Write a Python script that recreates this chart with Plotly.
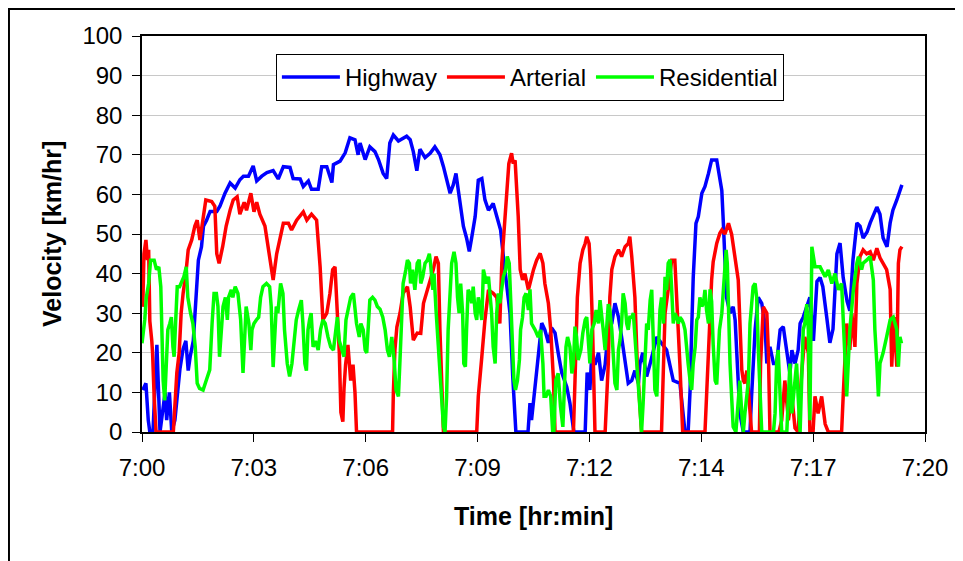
import plotly.graph_objects as go

# time in minutes after 7:00, velocity in km/hr
hw_t = [0.02,0.10,0.16,0.20,0.28,0.38,0.46,0.59,0.63,0.70,0.76,0.84,0.92,0.97,1.05,1.12,1.18,1.23,1.31,1.35,
        1.40,1.44,1.52,1.57,1.65,1.74,1.91,1.99,2.12,2.25,2.38,2.50,2.59,2.72,2.84,2.93,3.06,3.19,3.35,3.48,
        3.61,3.78,3.86,4.04,4.12,4.25,4.33,4.50,4.59,4.72,4.85,4.89,5.06,5.19,5.31,5.44,5.52,5.57,5.70,5.82,
        5.95,6.04,6.16,6.25,6.33,6.42,6.55,6.76,6.85,6.93,7.02,7.10,7.23,7.36,7.48,7.61,7.70,7.78,7.87,7.95,
        8.02,8.08,8.12,8.21,8.29,8.36,8.42,8.51,8.59,8.68,8.76,8.85,8.97,9.06,9.16,9.23,9.32,9.40,9.47,9.53,
        9.55,9.86,9.91,9.95,10.04,10.12,10.21,10.29,10.38,10.46,10.55,10.63,10.72,10.85,10.93,11.02,11.03,11.32,11.37,11.44,
        11.49,11.57,11.66,11.74,11.83,11.91,12.00,12.08,12.17,12.25,12.34,12.42,12.51,12.59,12.68,12.72,12.79,12.89,12.98,13.15,
        13.40,13.57,13.74,13.83,13.87,13.95,14.00,14.04,14.08,14.15,14.21,14.30,14.38,14.47,14.55,14.68,14.74,14.81,14.85,14.89,
        14.93,15.02,15.10,15.15,15.19,15.23,15.27,15.36,15.53,15.57,15.66,15.74,15.83,15.91,15.96,16.04,16.13,16.21,16.30,16.38,
        16.47,16.55,16.60,16.68,16.76,16.81,16.89,16.98,17.06,17.15,17.24,17.32,17.39,17.49,17.57,17.65,17.75,17.83,17.91,18.01,
        18.08,18.16,18.26,18.34,18.42,18.52,18.60,18.77,18.85,18.93,19.03,19.11,19.18,19.28,19.41]
hw_v = [10.6,12.3,3,0,0,22,0,10,3,10,0,3,11,16,21,23,15.5,19,23,30,
        36.7,43.4,46.8,52,53.5,55.7,55.7,57,60.3,62.9,61.6,63.7,64.6,64.6,67.2,63.4,64.6,65.5,66,63.9,
        67,66.8,64,63.9,62,63.4,61.3,61.3,67,67,63,67.5,68.4,70.5,74.3,73.8,70,73,68.8,72,
        70.8,68.8,65.3,64,73,75,73.5,74.7,73.8,70.8,66,71.4,69.3,70.4,72,70,67,63.6,60.3,62.4,
        65.3,61,57.7,51.9,49,45.6,49,54.4,63.6,64,58.6,56,57.7,54.4,51,44.3,35.9,30,14,1.3,
        0,0,7.3,3,11.4,20,27.5,25.8,22.5,26.3,25,20,15,11.4,7.3,0.8,0,0,15,10.6,
        20,17,20,13,17,25.8,27.4,32.5,29,24,18,12.3,13,15.5,12.3,17.3,20,14,17.3,24,
        20.7,13,12.3,4.7,0,0,10.6,25.8,39,52.7,54.4,60.3,62,65.3,68.7,68.7,64.5,61,52.7,42.6,
        34,30,31.6,28.3,21.5,13,4.7,0,0,9,25.8,34,32.5,27.4,17.3,21.5,17.3,17.3,25.8,26.6,
        19.9,14.8,20.7,17.3,20.7,27.4,29,31.6,34,23,38,39,36.7,29,22.5,26,45,47.7,39,33,
        30.6,43.4,52.8,52,49,50.5,52.8,56.8,55,49,46.8,52.8,56,58.6,62.4]

ar_t = [0.02,0.05,0.10,0.14,0.17,0.20,0.25,0.27,0.31,0.36,0.80,0.84,0.89,0.95,1.00,1.05,1.12,1.18,1.27,1.35,
        1.41,1.48,1.57,1.63,1.78,1.86,1.91,1.97,2.06,2.15,2.25,2.33,2.43,2.50,2.61,2.67,2.78,2.86,2.93,3.01,
        3.14,3.23,3.29,3.35,3.44,3.52,3.61,3.74,3.82,3.95,4.12,4.21,4.33,4.46,4.55,4.62,4.72,4.80,4.87,4.93,
        4.99,5.04,5.08,5.13,5.16,5.20,5.26,5.33,5.39,5.44,5.48,6.40,6.42,6.46,6.51,6.59,6.67,6.78,6.85,6.93,
        7.03,7.12,7.19,7.27,7.36,7.44,7.51,7.57,7.61,7.66,7.70,8.55,8.59,8.68,8.76,8.85,8.97,9.06,9.14,9.19,
        9.25,9.32,9.37,9.44,9.48,9.53,9.57,9.61,9.66,9.72,9.78,9.87,10.00,10.08,10.17,10.24,10.29,10.38,10.44,10.51,
        10.55,11.02,11.06,11.12,11.19,11.26,11.32,11.36,11.42,11.46,11.51,11.57,11.83,11.87,11.91,11.95,12.00,12.08,12.17,12.25,
        12.34,12.42,12.46,12.51,12.59,12.65,12.70,12.76,13.27,13.32,13.36,13.44,13.53,13.61,13.66,13.74,13.81,14.38,14.42,14.49,
        14.55,14.59,14.68,14.76,14.81,14.89,14.98,15.06,15.15,15.23,15.27,15.32,15.36,15.40,15.45,15.51,15.57,15.77,15.80,15.87,
        15.96,16.00,16.04,16.27,16.34,16.42,16.51,16.60,16.68,16.76,16.85,16.93,17.02,17.06,17.14,17.19,17.27,17.36,17.45,17.53,
        17.87,17.91,18.00,18.08,18.13,18.21,18.26,18.34,18.42,18.51,18.60,18.68,18.77,18.85,18.93,19.02,19.11,19.15,19.21,19.28,
        19.32,19.36,19.41]
ar_v = [31.6,45,48.5,43.4,46,28,23,20,9,0,0,7,15,20,30,35,40,46,48.5,52,
        53.5,48.5,55,58.6,58.2,57,45,42.6,46.8,52,56,58.6,59.4,55,58,56,60.3,55.6,58,55,
        52,46,41.7,38.4,45,48.5,52.7,52.7,51,53.5,55.6,53.5,55,53.5,41.7,28.3,30,35,41,41.7,
        30.8,20,5,2.6,11,17,22,13,17,10,0,0,9.8,20.7,26.5,30,35,36.7,31.6,23.2,
        25,24.9,32.5,35,38.4,41,44.3,42.6,25.8,9,0,0,9,19,28.3,35.9,35,34,27.4,42.6,
        51,61,67.8,70.4,67.8,68.6,62,54.4,41,38.4,40,35.9,41,43.4,45.1,42.6,37.5,32.5,25.8,13.1,
        0,0,13,34,42.6,46,47.6,49.3,47.6,41,25.8,0,0,9,17.3,34,41,44.3,46,44.3,
        46.8,47.6,49.3,44.3,34,17.3,9,0,0,17,30,35.9,43.4,43.4,34,17,0,0,9,25.8,
        38.4,43,47.6,50.2,51,50,52.7,50,43.4,38.4,28.3,15.7,13,12.3,15.5,7.9,0,0,17.3,31.6,
        30,20,0,0,3,13,3,9,1,0,15,24,20,0,0,9,4.7,9,2,0,
        0,9,27.4,20.7,30,21.5,37.5,44.3,46,45,45.5,43.4,46.4,44,42.6,41,36,16.5,29,16.5,
        42.6,46,46.8]

rs_t = [0.00,0.07,0.11,0.17,0.22,0.31,0.37,0.43,0.48,0.51,0.54,0.58,0.62,0.66,0.71,0.75,0.79,0.82,0.85,0.90,
        0.96,1.00,1.07,1.13,1.17,1.24,1.30,1.36,1.41,1.47,1.56,1.64,1.73,1.79,1.84,1.90,1.94,1.98,2.03,2.07,
        2.13,2.18,2.21,2.28,2.32,2.38,2.45,2.52,2.58,2.62,2.66,2.73,2.78,2.81,2.86,2.92,2.98,3.03,3.09,3.18,
        3.26,3.30,3.35,3.39,3.43,3.47,3.54,3.60,3.64,3.71,3.77,3.83,3.88,3.94,4.00,4.07,4.11,4.16,4.20,4.24,
        4.28,4.32,4.37,4.43,4.50,4.56,4.62,4.68,4.75,4.82,4.89,4.96,4.99,5.04,5.10,5.16,5.21,5.27,5.33,5.40,
        5.44,5.48,5.55,5.59,5.65,5.70,5.74,5.78,5.82,5.89,5.95,6.01,6.08,6.15,6.21,6.27,6.32,6.38,6.44,6.49,
        6.55,6.59,6.63,6.67,6.74,6.78,6.83,6.86,6.91,6.97,7.03,7.08,7.12,7.17,7.23,7.29,7.34,7.37,7.43,7.46,
        7.51,7.54,7.59,7.66,7.70,7.74,7.78,7.82,7.87,7.91,7.97,8.02,8.06,8.10,8.14,8.19,8.22,8.26,8.29,8.33,
        8.38,8.42,8.46,8.51,8.55,8.59,8.63,8.68,8.72,8.76,8.80,8.85,8.89,8.93,8.97,9.02,9.06,9.10,9.14,9.19,
        9.23,9.29,9.33,9.38,9.42,9.47,9.50,9.54,9.59,9.64,9.67,9.72,9.76,9.81,9.87,9.91,9.95,10.04,10.12,10.18,
        10.24,10.27,10.32,10.38,10.44,10.49,10.52,10.57,10.63,10.69,10.75,10.78,10.83,10.87,10.93,10.98,11.02,11.06,11.10,11.14,
        11.21,11.26,11.32,11.36,11.40,11.44,11.49,11.55,11.60,11.66,11.70,11.74,11.78,11.83,11.87,11.91,11.95,12.00,12.04,12.08,
        12.13,12.17,12.21,12.25,12.29,12.34,12.38,12.42,12.46,12.51,12.55,12.59,12.64,12.68,12.72,12.76,12.80,12.85,12.89,12.93,
        12.98,13.02,13.06,13.10,13.15,13.19,13.23,13.27,13.32,13.36,13.40,13.44,13.49,13.53,13.57,13.61,13.66,13.70,13.74,13.79,
        13.83,13.87,13.91,13.95,14.00,14.04,14.08,14.13,14.17,14.21,14.25,14.30,14.34,14.38,14.42,14.47,14.51,14.55,14.59,14.64,
        14.68,14.75,14.81,14.85,14.89,14.92,14.95,14.98,15.02,15.06,15.10,15.17,15.23,15.27,15.32,15.36,15.40,15.45,15.49,15.53,
        15.57,15.61,15.66,15.70,15.74,15.79,15.83,16.13,16.17,16.21,16.25,16.30,16.34,16.47,16.51,16.55,16.60,16.64,16.68,16.72,
        16.76,16.81,16.85,16.89,16.93,16.98,17.02,17.06,17.11,17.19,17.32,17.45,17.53,17.62,17.70,17.79,17.87,17.91,17.96,18.00,
        18.08,18.17,18.26,18.30,18.38,18.42,18.51,18.60,18.68,18.72,18.77,18.81,18.85,18.93,19.02,19.11,19.19,19.28,19.32,19.36,
        19.40]
rs_v = [22.4,28.3,34,37.5,43.4,43.4,41,41.7,36.7,25.8,13,8,17.3,25.8,27.4,29,21.5,19,25.8,36.7,
        36.7,37.5,39.2,41.7,34,30,27.4,21.5,12.3,11,10.6,13,15.7,27.4,35,35,31.7,19,25.8,31.7,
        34,28.3,34,35.9,34,36.7,35,28.3,14.9,25.8,31.7,27.4,20.7,25.8,27.4,28.3,29,34,36.7,37.5,
        36.7,31.7,16.4,24,31.7,30,37.5,35,25.8,17.3,14,17.3,23.2,28.3,30.8,33.3,27.4,17.3,15.5,25.8,
        28.3,30,21.5,23,20.7,25.8,28.3,27.4,24,21.5,20.7,25.8,29,23,20.7,19,28.3,31.7,34,35,
        31.7,27.4,24,27.4,25.8,20.7,20,27.4,33.3,34,33.3,31.7,31,29,25.8,20.7,19,24,18.2,10.6,
        9,18.2,30,37.5,41,43.4,42.6,37.5,41,35.9,42.6,43.5,37.5,39.2,42.6,43.4,45,42.6,35.9,40,
        30.8,25.8,17.3,9,1.3,0,9,25.8,35.9,42.6,45.5,42.6,34,30,37.5,30,17.3,16.5,25.8,35.9,
        35,32.5,36.7,30,28.3,34,31.7,28.3,41,39.2,37.5,39.2,35,30,21.5,17.3,30,35,32.5,36.7,
        39.2,41,44.3,42.6,34,24,13.1,10.6,13,18.2,25.8,29,34,35,30.8,36,27.4,25.8,24,25.8,
        17.3,9,9,10.6,9,0,0,13.1,14.8,6.4,1.3,9,21.5,24,21.5,14.8,17.3,26.6,24,18.2,
        20.7,25,28.3,29,21.5,17.3,25.8,27.4,30.8,27.4,33.3,30,25.8,20.7,27.4,32.3,30.8,25.8,19,12.3,
        10.6,20.7,23.2,27.4,35,32.5,27.4,25.8,29,29,30,24,17.3,13,4.7,0,7.2,21.5,27.4,25.8,
        33.3,35.9,25.8,10.6,9,20.7,30.8,34,27.4,39.2,35.9,42.6,43.5,35.9,27.4,30,29,27.4,29,28.3,
        27.4,25.8,20.7,17.3,13,10.6,17.3,21.5,28.3,29,34,31.7,32.5,35.9,30.8,27.4,36,33,22,13,
        12,25.8,30,35.9,42.6,46,42.6,27.4,17.3,9,1.3,0,9,13,4.7,0,4.7,9,13,27.4,
        32.3,36.7,37.5,34,21.5,10.6,0,0,4.7,17.3,20.7,9,0,0,9,17.3,4.7,9,14.8,17.3,
        9,0,13,25.8,27.4,32.3,25.8,3,46.8,41.7,41.7,39.2,40.9,37.5,40,35.9,37.5,27.4,17.3,9,
        25.8,35.9,42.6,44.3,41,42.6,43.4,44.3,38.4,25.8,17.3,9,17.3,20,24,28.3,29,25.8,16.5,24,
        22.4]

tick_vals = [0, 20/7, 40/7, 60/7, 80/7, 100/7, 120/7, 20]
tick_text = ["7:00", "7:03", "7:06", "7:09", "7:12", "7:14", "7:17", "7:20"]

FONT = "Liberation Sans, Arial, sans-serif"
LW = 3.5

fig = go.Figure()
fig.add_trace(go.Scatter(x=hw_t, y=hw_v, mode="lines", name="Highway",
                         line=dict(color="#0000FF", width=LW)))
fig.add_trace(go.Scatter(x=ar_t, y=ar_v, mode="lines", name="Arterial",
                         line=dict(color="#FF0000", width=LW)))
fig.add_trace(go.Scatter(x=rs_t, y=rs_v, mode="lines", name="Residential",
                         line=dict(color="#00FF00", width=LW)))

fig.update_layout(
    width=955, height=553,
    margin=dict(l=134, r=38, t=28, b=129),
    paper_bgcolor="white", plot_bgcolor="white",
    font=dict(family=FONT, size=24, color="black"),
    showlegend=True,
    legend=dict(orientation="h", x=0.171, y=0.9545, xanchor="left", yanchor="top",
                bgcolor="white", bordercolor="black", borderwidth=1,
                itemwidth=58,
                font=dict(family=FONT, size=24, color="black"),
                traceorder="normal"),
    xaxis=dict(range=[0, 20], tickvals=tick_vals, ticktext=tick_text,
               showgrid=False, zeroline=False, showline=True, mirror=True,
               linecolor="black", linewidth=1.5, ticks="outside", ticklen=8,
               tickcolor="black", tickwidth=1, ticklabelstandoff=5,
               tickfont=dict(family=FONT, size=24, color="black")),
    yaxis=dict(range=[0, 100], dtick=10, tick0=0,
               showgrid=True, gridcolor="#c8c8c8", gridwidth=1,
               zeroline=False, showline=True, mirror=True,
               linecolor="black", linewidth=1.5, ticks="outside", ticklen=8,
               tickcolor="black", tickwidth=1, ticklabelstandoff=5,
               tickfont=dict(family=FONT, size=24, color="black")),
    annotations=[
        dict(text="<b>Time [hr:min]</b>", xref="paper", yref="paper",
             x=0.5, y=-0.212, xanchor="center", yanchor="middle", showarrow=False,
             font=dict(family=FONT, size=25, color="black")),
        dict(text="<b>Velocity [km/hr]</b>", xref="paper", yref="paper",
             x=-0.115, y=0.5, xanchor="center", yanchor="middle", showarrow=False,
             textangle=-90, font=dict(family=FONT, size=25, color="black")),
    ],
    shapes=[
        dict(type="rect", xref="paper", yref="paper", x0=-0.1699, y0=-0.6, x1=1.2, y1=1.0682,
             line=dict(color="black", width=2), fillcolor="rgba(0,0,0,0)", layer="below"),
    ],
)

fig.write_html("out.html")
